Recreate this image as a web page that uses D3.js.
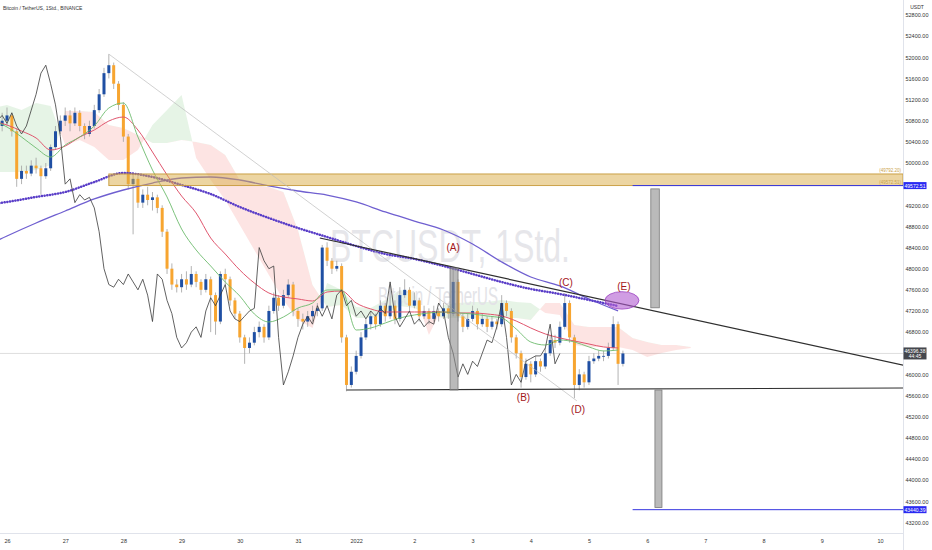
<!DOCTYPE html>
<html>
<head>
<meta charset="utf-8">
<script src="https://cdn.jsdelivr.net/npm/d3@7"></script>
<style>
  html, body { margin: 0; padding: 0; background: #fff; }
  svg { display: block; font-family: "Liberation Sans", Arial, sans-serif; }
</style>
</head>
<body>
<svg id="chart" width="932" height="550"></svg>
<script>
// ---------- data (hours counted from 26 Dec 2021 00:00 UTC) ----------
const hourZero = Date.UTC(2021, 11, 26);
const firstOpen = 50700;

// 2h candles, first one at hour -2
const closes = [
  50800, 50900, 50600, 49700, 49850, 49800, 49950, 49900, 49750, 49900,
  50300, 50600, 50800, 50900, 50750, 50950, 50700, 50550, 50700, 51000,
  51300, 51700, 51850, 51500, 51100, 50500, 49600, 49700, 49250, 49400,
  49300, 49350, 49150, 48700, 48000, 47700, 47650, 47800, 47700, 47900,
  47750, 47600, 47800, 47500, 47000, 47900, 47800, 47400, 47150, 46700,
  46500, 46600, 46800, 46900, 46700, 47200, 47450, 47300, 47500, 47700,
  47200, 47050, 47000, 47100, 47200, 47250, 48400, 48150, 48000, 48050,
  46700, 45800, 46050, 46350, 46700, 46950, 47100, 46950, 47300, 47100,
  47300, 47050, 47500, 47600, 47300, 47400, 47100, 47200, 47050, 47200,
  47100, 47250, 47150, 47750, 47100, 46900, 47050, 47200, 46950, 47050,
  46900, 47000, 46950, 47350, 47200, 46700, 46400, 45950, 46200, 46000,
  46250, 46150, 46400, 46650, 46600, 46900, 47350, 46700, 45800, 46000,
  45850, 46250, 46300, 46350, 46350, 46500, 46950, 46200, 46396.38
];
const highs = [
  50950, 51050, 50950, 50650, 49950, 49950, 50050, 50100, 49950, 50000,
  50350, 50700, 50900, 51050, 51000, 51050, 51000, 50750, 50800, 51100,
  51400, 51800, 52060, 51900, 51550, 51150, 50550, 49800, 49750, 49500,
  49550, 49450, 49400, 49200, 48750, 48100, 47800, 47900, 47950, 48050,
  47950, 47800, 47900, 47850, 47550, 47950, 48000, 47850, 47450, 47200,
  46750, 46700, 46900, 47000, 46950, 47300, 47550, 47500, 47600, 47800,
  47750, 47250, 47150, 47200, 47300, 47350, 48450, 48500, 48200, 48150,
  48100, 46750, 46150, 46450, 46800, 47050, 47200, 47150, 47400, 47350,
  47700, 47400, 47650, 47800, 47650, 47550, 47450, 47300, 47250, 47300,
  47250, 47350, 47300, 47980, 47800, 47150, 47150, 47300, 47250, 47150,
  47100, 47100, 47050, 47500, 47400, 47250, 46750, 46450, 46300, 46250,
  46350, 46300, 46500, 46750, 46750, 47000, 47540, 47400, 46750, 46100,
  46050, 46350, 46400, 46450, 46450, 46600, 47100, 47000, 46450
];
const lows = [
  50600, 50700, 50500, 49550, 49600, 49700, 49750, 49800, 49400, 49700,
  49850, 50250, 50550, 50700, 50600, 50700, 50600, 50450, 50500, 50650,
  50950, 51250, 51600, 51400, 51000, 50400, 49500, 48650, 49150, 49150,
  49200, 49100, 49050, 48600, 47900, 47600, 47550, 47550, 47600, 47650,
  47650, 47500, 47550, 46800, 46750, 46950, 47700, 47300, 47050, 46600,
  46200, 46400, 46550, 46700, 46600, 46650, 47150, 47200, 47250, 47450,
  47100, 46900, 46850, 46900, 47000, 47100, 47200, 48050, 47900, 47950,
  46600, 45680, 45750, 46000, 46300, 46650, 46850, 46850, 46900, 47000,
  47050, 46950, 47000, 47450, 47200, 47250, 47000, 47050, 46950, 47000,
  47000, 47050, 47050, 47100, 47000, 46800, 46850, 47000, 46850, 46900,
  46800, 46850, 46850, 46900, 47100, 46600, 46300, 45750, 45900, 45850,
  45950, 46050, 46100, 46350, 46500, 46550, 46850, 46600, 45550, 45700,
  45750, 45800, 46200, 46250, 46250, 46300, 46450, 45800, 46150
];
const candleHours = d3.range(closes.length).map(i => -2 + 2 * i);
const chikouShift = 26;

// Ichimoku cloud, every 6h
const cloudHours = d3.range(-6, 283, 6);
const spanA = [
  51040, 51097, 51003, 51135, 51078, 50340, 50435, 50303, 50057, 50057,
  50246, 50719, 51003, 51286, 50094, 49678, 49300, 48827, 48354, 47881,
  47408, 47029, 46878, 47729, 47597, 47275, 47256, 47408, 47597, 47559,
  46746, 47313, 47351, 47370, 47370, 47408, 47370, 47351, 47162, 47124,
  46556, 46519, 46519, 46519, 46462, 46330, 46405, 46462, 46500
];
const spanB = [
  49830, 49830, 49830, 49867, 49962, 50984, 50984, 50965, 50719, 50662,
  50530, 50378, 50378, 50435, 50397, 50340, 50151, 49678, 49584, 49546,
  49451, 48732, 47692, 47275, 47313, 47067, 47067, 47124, 47294, 47256,
  47124, 47067, 47067, 47067, 47029, 47067, 47067, 47029, 47351, 47351,
  46935, 46897, 46897, 46897, 46689, 46613, 46556, 46556, 46519
];

// moving averages
const fastHours = d3.range(-6, 253, 6);
const emaFast = [
  50813, 50681, 50492, 50284, 50113, 50340, 50492, 50700, 51040, 51135,
  50492, 49867, 49357, 48751, 48354, 48051, 47748, 47483, 47143, 46992,
  47086, 47256, 47351, 47597, 47597, 46840, 46878, 46973, 47067, 47124,
  47162, 47181, 47162, 47143, 47105, 47067, 46859, 46613, 46556, 46651,
  46613, 46519, 46443, 46462
];
const emaMid = [
  50794, 50719, 50605, 50473, 50246, 50321, 50492, 50624, 50794, 50870,
  50624, 50208, 49773, 49375, 49054, 48581, 48278, 47975, 47729, 47540,
  47465, 47427, 47389, 47559, 47578, 47351, 47238, 47181, 47181, 47181,
  47181, 47181, 47162, 47162, 47143, 47105, 47010, 46878, 46765, 46689,
  46632, 46575, 46519, 46500
];
const slowHours = d3.range(-12, 253, 12);
const emaSlow = [
  48354, 48619, 48865, 49092, 49319, 49489, 49621, 49716, 49735, 49678,
  49565, 49470, 49394, 49262, 49073, 48902, 48732, 48467, 48127, 47843,
  47673, 47427, 47200
];
const smaDotted = [
  49186, 49262, 49357, 49451, 49640, 49811, 49735, 49584, 49413, 49167,
  48959, 48770, 48600, 48429, 48278, 48184, 48051, 47900, 47748, 47616,
  47521, 47408, 47294
];

// drawings: [hour, price]
const guideLine = [[42, 52060], [235, 45500]];
const upperTrend = [[129, 48581], [370, 46170]];
const lowerTrend = [[140, 45705], [370, 45743]];
const zoneTop = 49792.20, zoneBottom = 49572.51, zoneStartHour = 42;
const targetUp = 49572.51, targetDown = 43440.39, targetStartHour = 258;
const lastPrice = 46396.38, countdown = "44:45";
const rangeBars = [
  { h0: 182.7, h1: 186.0, p0: 48013, p1: 45705 },
  { h0: 265.5, h1: 269.0, p0: 49510, p1: 47260 },
  { h0: 267.2, h1: 270.1, p0: 45705, p1: 43480 }
];
const waveLabels = [
  { t: "(A)", h: 184, p: 48392 },
  { t: "(B)", h: 213, p: 45554 },
  { t: "(C)", h: 230.5, p: 47730 },
  { t: "(D)", h: 235.5, p: 45327 },
  { t: "(E)", h: 254.4, p: 47670 }
];
const ellipseE = { h: 253.6, p: 47400, rh: 7, rp: 165 };

const dayTicks = d3.range(0, 16).map(d => new Date(hourZero + d * 864e5));
const dayLabels = ["26", "27", "28", "29", "30", "31", "2022", "2", "3", "4", "5", "6", "7", "8", "9", "10"];
const priceTicks = d3.range(43200, 52801, 400);

// ---------- setup ----------
const plotW = 903, plotH = 533;
const hour = h => new Date(hourZero + h * 3600e3);
const x = d3.scaleUtc()
  .domain([new Date(Date.UTC(2021, 11, 25, 21, 7)), new Date(Date.UTC(2022, 0, 10, 9, 30))])
  .range([0, plotW]);
const y = d3.scaleLinear().domain([42999, 53084]).range([plotH, 0]);
const xh = h => x(hour(h));

const svg = d3.select("#chart");
const defs = svg.append("defs");
defs.append("clipPath").attr("id", "plot")
  .append("rect").attr("width", plotW).attr("height", plotH);

const cloud = cloudHours.map((h, i) => ({ h: h, a: spanA[i], b: spanB[i] }));
defs.append("clipPath").attr("id", "aboveB").append("path")
  .attr("d", d3.area().x(d => xh(d.h)).y0(0).y1(d => y(d.b))(cloud));
defs.append("clipPath").attr("id", "belowB").append("path")
  .attr("d", d3.area().x(d => xh(d.h)).y0(d => y(d.b)).y1(plotH)(cloud));

const g = svg.append("g").attr("clip-path", "url(#plot)");

// last price line
g.append("line")
  .attr("x1", 0).attr("x2", plotW)
  .attr("y1", y(lastPrice)).attr("y2", y(lastPrice))
  .attr("stroke", "#d6d6d6").attr("stroke-width", 0.8);

// cloud
const band = d3.area().x(d => xh(d.h)).y0(d => y(d.a)).y1(d => y(d.b));
g.append("g").attr("clip-path", "url(#aboveB)")
  .append("path").attr("d", band(cloud)).attr("fill", "#4caf50").attr("fill-opacity", 0.14);
g.append("g").attr("clip-path", "url(#belowB)")
  .append("path").attr("d", band(cloud)).attr("fill", "#f44336").attr("fill-opacity", 0.14);

// watermark
g.append("text").attr("x", 330).attr("y", 262)
  .attr("font-size", 47).attr("fill", "#e6e6ea")
  .attr("textLength", 240).attr("lengthAdjust", "spacingAndGlyphs")
  .text("BTCUSDT, 1Std.");
g.append("text").attr("x", 378).attr("y", 305)
  .attr("font-size", 25).attr("fill", "#e3e3e7")
  .attr("textLength", 120).attr("lengthAdjust", "spacingAndGlyphs")
  .text("Bitcoin / TetherUS");

// candles
const candles = closes.map((c, i) => ({
  h: candleHours[i],
  o: i ? closes[i - 1] : firstOpen,
  c: c, hi: highs[i], lo: lows[i]
}));
const cg = g.append("g");
cg.selectAll("line").data(candles).join("line")
  .attr("x1", d => xh(d.h)).attr("x2", d => xh(d.h))
  .attr("y1", d => y(d.hi)).attr("y2", d => y(d.lo))
  .attr("stroke", "#a0a0a0").attr("stroke-width", 0.8);
cg.selectAll("rect").data(candles).join("rect")
  .attr("x", d => xh(d.h) - 1.5).attr("width", 3)
  .attr("y", d => y(Math.max(d.o, d.c)))
  .attr("height", d => Math.max(0.8, Math.abs(y(d.o) - y(d.c))))
  .attr("fill", d => d.c >= d.o ? "#1f4fa3" : "#f7a530");

// moving averages
const smooth = d3.line().curve(d3.curveMonotoneX);
const pts = (hs, vs) => hs.map((h, i) => [xh(h), y(vs[i])]);
g.append("path").attr("d", smooth(pts(slowHours, emaSlow)))
  .attr("fill", "none").attr("stroke", "#6f5fd0").attr("stroke-width", 1.3);
g.append("path").attr("d", smooth(pts(slowHours, smaDotted)))
  .attr("fill", "none").attr("stroke", "#5a3ec8").attr("stroke-width", 2.5)
  .attr("stroke-linecap", "round").attr("stroke-dasharray", "0.1,2.6");
g.append("path").attr("d", smooth(pts(fastHours, emaMid)))
  .attr("fill", "none").attr("stroke", "#e0566e").attr("stroke-width", 1);
g.append("path").attr("d", smooth(pts(fastHours, emaFast)))
  .attr("fill", "none").attr("stroke", "#6dbb6d").attr("stroke-width", 0.9);

// lagging span
g.append("path")
  .attr("d", d3.line()(candles.map(d => [xh(d.h - chikouShift), y(d.c)])))
  .attr("fill", "none").attr("stroke", "#3a3a3a").attr("stroke-width", 0.8);

// zone
g.append("rect")
  .attr("x", xh(zoneStartHour)).attr("width", plotW - xh(zoneStartHour))
  .attr("y", y(zoneTop)).attr("height", y(zoneBottom) - y(zoneTop))
  .attr("fill", "#d9ac45").attr("fill-opacity", 0.5)
  .attr("stroke", "#c79a3a").attr("stroke-width", 0.9);
[zoneTop, zoneBottom].forEach(p => {
  g.append("text").attr("x", plotW - 2).attr("y", y(p) - 1.5)
    .attr("text-anchor", "end").attr("font-size", 4.5).attr("fill", "#c9a24a")
    .text("(" + d3.format(".2f")(p) + ")");
});

// straight drawings
const seg = d3.line().x(d => xh(d[0])).y(d => y(d[1]));
g.append("path").attr("d", seg(guideLine))
  .attr("stroke", "#bdbdbd").attr("stroke-width", 0.7).attr("fill", "none");
g.append("path").attr("d", seg(upperTrend))
  .attr("stroke", "#2f2f2f").attr("stroke-width", 1.2).attr("fill", "none");
g.append("path").attr("d", seg(lowerTrend))
  .attr("stroke", "#2f2f2f").attr("stroke-width", 1.2).attr("fill", "none");

[targetUp, targetDown].forEach(p => {
  g.append("line")
    .attr("x1", xh(targetStartHour)).attr("x2", plotW)
    .attr("y1", y(p)).attr("y2", y(p))
    .attr("stroke", "#3434e0").attr("stroke-width", 1);
});

g.selectAll(".bar").data(rangeBars).join("rect")
  .attr("class", "bar")
  .attr("x", d => xh(d.h0)).attr("width", d => xh(d.h1) - xh(d.h0))
  .attr("y", d => y(d.p0)).attr("height", d => y(d.p1) - y(d.p0))
  .attr("fill", "#8c8c8c").attr("fill-opacity", 0.6)
  .attr("stroke", "#7a7a7a").attr("stroke-width", 0.8);

g.append("ellipse")
  .attr("cx", xh(ellipseE.h)).attr("cy", y(ellipseE.p))
  .attr("rx", xh(ellipseE.h + ellipseE.rh) - xh(ellipseE.h))
  .attr("ry", y(ellipseE.p - ellipseE.rp) - y(ellipseE.p))
  .attr("fill", "#b05cd0").attr("fill-opacity", 0.6)
  .attr("stroke", "#9a40c0").attr("stroke-width", 0.8);

g.selectAll(".wave").data(waveLabels).join("text")
  .attr("class", "wave")
  .attr("x", d => xh(d.h)).attr("y", d => y(d.p))
  .attr("text-anchor", "middle").attr("dominant-baseline", "central")
  .attr("font-size", 10).attr("fill", "#a3161a")
  .text(d => d.t);

// ---------- axes ----------
svg.append("line").attr("x1", plotW + 0.5).attr("x2", plotW + 0.5)
  .attr("y1", 0).attr("y2", 550).attr("stroke", "#e0e3eb");
svg.append("line").attr("x1", 0).attr("x2", plotW)
  .attr("y1", plotH + 0.5).attr("y2", plotH + 0.5).attr("stroke", "#e0e3eb");

// tags hide the tick labels they sit on, as on the original
const tagPrices = [targetUp, lastPrice];
const visibleTicks = priceTicks.filter(p => tagPrices.every(t => Math.abs(y(p) - y(t)) > 6));

const yAxis = svg.append("g").attr("transform", `translate(${plotW},0)`)
  .call(d3.axisRight(y).tickValues(visibleTicks).tickFormat(d3.format(".2f")).tickSize(0).tickPadding(2.5));
const xAxis = svg.append("g").attr("transform", `translate(0,${plotH})`)
  .call(d3.axisBottom(x).tickValues(dayTicks).tickFormat((d, i) => dayLabels[i]).tickSize(0).tickPadding(6));
[yAxis, xAxis].forEach(a => {
  a.select(".domain").remove();
  a.selectAll("text").attr("font-size", 5.5).attr("fill", "#333")
    .attr("font-family", "Liberation Sans, Arial, sans-serif");
});

// price tags
function priceTag(p, fill, lines) {
  const cy = y(p), hgt = lines.length > 1 ? 12 : 7;
  svg.append("rect").attr("x", plotW + 0.5).attr("y", cy - hgt / 2)
    .attr("width", 23).attr("height", hgt).attr("fill", fill);
  lines.forEach((s, i) => {
    svg.append("text").attr("x", plotW + 12).attr("y", cy - hgt / 2 + 3.5 + i * 5)
      .attr("dominant-baseline", "central").attr("text-anchor", "middle")
      .attr("font-size", 5).attr("fill", "#fff").text(s);
  });
}
priceTag(targetUp, "#2a2af2", [d3.format(".2f")(targetUp)]);
priceTag(targetDown, "#2a2af2", [d3.format(".2f")(targetDown)]);
priceTag(lastPrice, "#45474d", [d3.format(".2f")(lastPrice), countdown]);

// header texts
svg.append("text").attr("x", 3).attr("y", 10)
  .attr("font-size", 5).attr("fill", "#333")
  .text("Bitcoin / TetherUS, 1Std., BINANCE");
svg.append("text").attr("x", 917).attr("y", 8.5).attr("text-anchor", "middle")
  .attr("font-size", 5).attr("fill", "#333").text("USDT");
</script>
</body>
</html>
